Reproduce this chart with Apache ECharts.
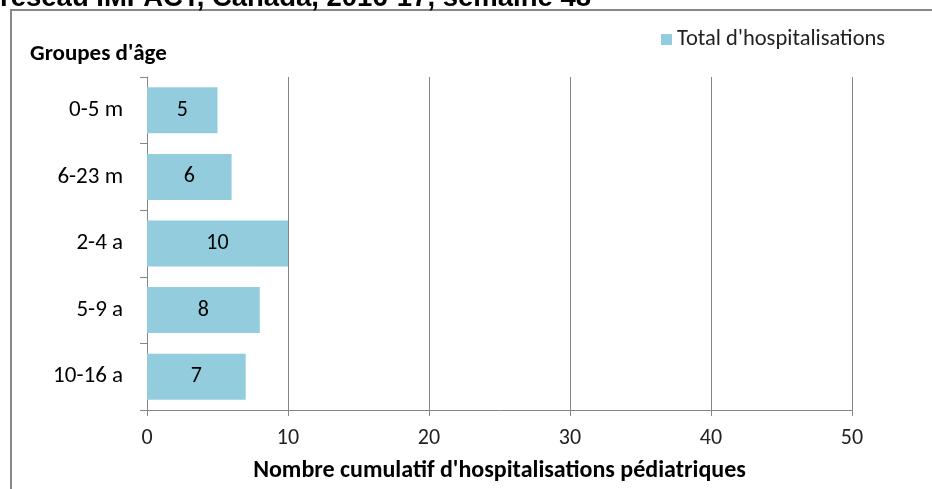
<!DOCTYPE html>
<html>
<head>
<meta charset="utf-8">
<script src="https://cdn.jsdelivr.net/npm/echarts@6/dist/echarts.min.js"></script>
<style>html,body{margin:0;padding:0;background:#fff}#c{width:932px;height:489px}</style>
</head>
<body>
<div id="c"></div>
<script>
var categories = ['0-5 m', '6-23 m', '2-4 a', '5-9 a', '10-16 a'];
var values = [5, 6, 10, 8, 7];
var seriesName = "Total d'hospitalisations";
var xTicks = [0, 10, 20, 30, 40, 50];
var titleText = 'réseau IMPACT, Canada, 2016-17, semaine 48';
var yAxisTitle = "Groupes d'âge";
var xAxisTitle = "Nombre cumulatif d'hospitalisations pédiatriques";

var FONT = 'Carlito, Lato, sans-serif';
var chart = echarts.init(document.getElementById('c'), null, {renderer: 'canvas'});
chart.setOption({
  animation: false,
  backgroundColor: '#fff',
  graphic: [
    {type: 'rect', shape: {x: 11, y: 10, width: 1000, height: 1000}, style: {fill: 'none', stroke: '#888', lineWidth: 2}, z: 0},
    {type: 'text', left: 0, top: -16, style: {text: titleText, font: 'bold 27.5px "Liberation Sans", Arial, sans-serif', fill: '#000'}},
    {type: 'text', left: 30, top: 43, style: {text: yAxisTitle, font: 'bold 23px ' + FONT, fill: '#000'}}
  ],
  legend: {
    data: [seriesName], left: 656, top: 23, itemWidth: 11, itemHeight: 11, itemGap: 7, icon: 'rect',
    textStyle: {fontFamily: FONT, fontSize: 22.5, color: '#222'}
  },
  grid: {left: 147, right: 80, top: 77, bottom: 79, containLabel: false},
  xAxis: {
    type: 'value', min: xTicks[0], max: xTicks[xTicks.length - 1], interval: xTicks[1] - xTicks[0],
    name: xAxisTitle, nameLocation: 'middle', nameGap: 49,
    nameTextStyle: {fontFamily: FONT, fontSize: 24, fontWeight: 'bold', color: '#000'},
    axisLine: {show: true, lineStyle: {color: '#868686', width: 1}},
    axisTick: {show: true, length: 6, lineStyle: {color: '#868686'}},
    axisLabel: {fontFamily: FONT, fontSize: 22, color: '#222', margin: 17},
    splitLine: {show: true, lineStyle: {color: '#868686', width: 1}}
  },
  yAxis: {
    type: 'category', data: categories, inverse: true,
    axisLine: {show: true, lineStyle: {color: '#868686', width: 1}},
    axisTick: {show: true, length: 7, alignWithLabel: false, lineStyle: {color: '#868686'}},
    axisLabel: {fontFamily: FONT, fontSize: 23, color: '#000', margin: 24},
    splitLine: {show: false}
  },
  series: [{
    name: seriesName, type: 'bar', data: values, barCategoryGap: '31%',
    itemStyle: {color: '#93CDDD'},
    label: {show: true, position: 'inside', fontFamily: FONT, fontSize: 22, color: '#000'}
  }]
});
</script>
</body>
</html>
